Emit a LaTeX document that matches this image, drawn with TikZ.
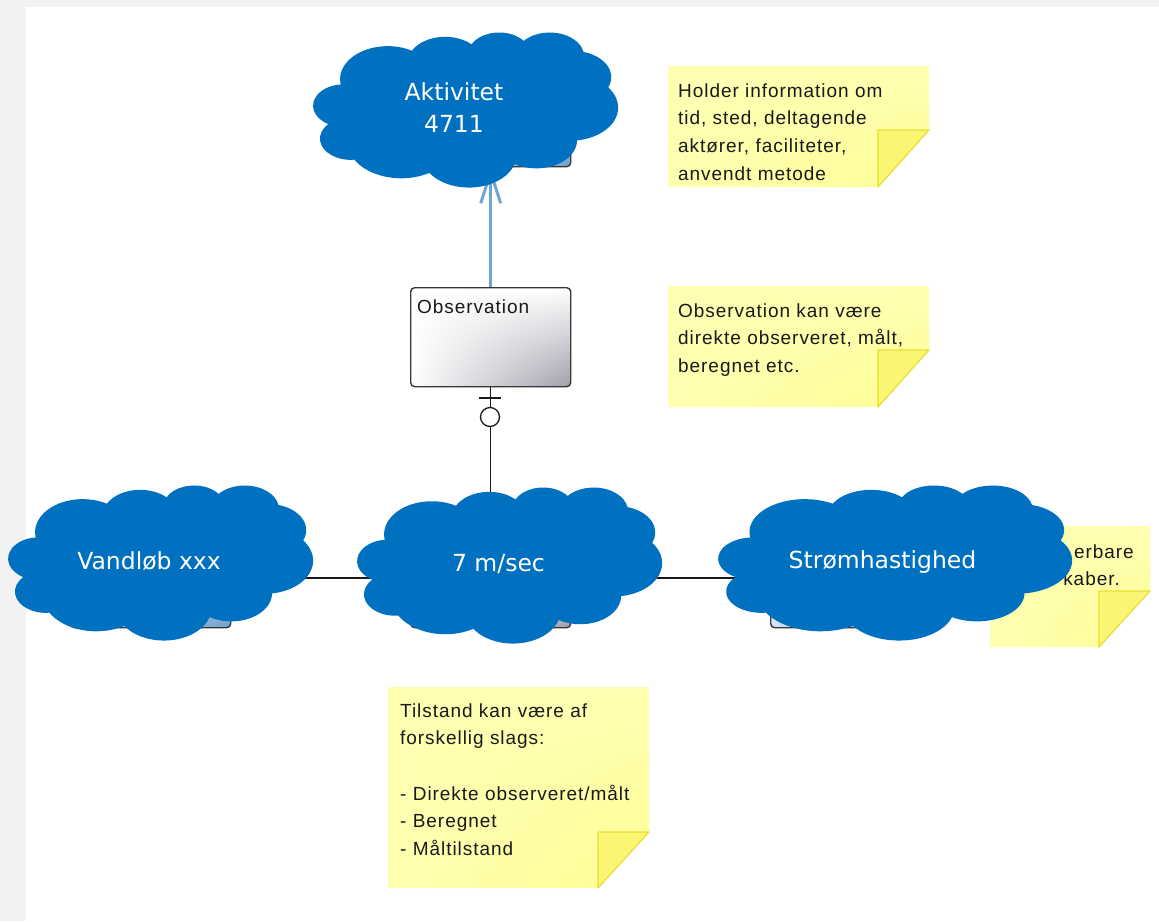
\documentclass[tikz,border=0pt]{standalone}
\usepackage{fontspec}
\newfontfamily\cloudfont{DejaVu Sans}
\newfontfamily\notefont[LetterSpace=5]{Liberation Sans}
\usetikzlibrary{arrows.meta,shadings}
\definecolor{cloudblue}{RGB}{0,112,192}
\definecolor{bgray}{RGB}{242,242,242}
\definecolor{noteyel}{RGB}{255,255,178}
\definecolor{noteyel2}{RGB}{255,253,148}
\definecolor{foldyel}{RGB}{250,246,115}
\definecolor{foldedge}{RGB}{232,222,50}
\definecolor{arrowblue}{RGB}{110,165,210}
\definecolor{boxedge}{RGB}{55,55,55}
\definecolor{boxgray}{RGB}{160,160,172}
\definecolor{boxblue}{RGB}{110,160,205}
\definecolor{boxblue2}{RGB}{210,228,245}
\definecolor{lineblack}{RGB}{25,25,25}
\newcommand\ppcloud[4]{%
  \pgfmathsetmacro\cldw{(#3-#1)/43.2}%
  \pgfmathsetmacro\cldh{(#4-#2)/43.2}%
  \begin{scope}[shift={(#1,#2)}, x=\cldw pt, y=-\cldh pt]
    \fill[cloudblue] (3.9,14.37)
      \foreach \ra/\rb/\sa/\sb [evaluate=\sa as \ta using {atan2(\ra*sin(\sa),\rb*cos(\sa))},
                             evaluate=\sa as \tb using {atan2(\ra*sin(\sa+\sb),\rb*cos(\sa+\sb))},
                             evaluate=\sa as \tc using {\ta+mod(\tb-\ta+720,360)}]
        in {6.753/9.19/-190.4875/123.7805, 5.333/7.267/-144.1024/89.9452,
            4.365/5.945/-145.8079/99.7230, 4.857/6.595/-130.9861/117.2417,
            5.333/7.273/-78.7089/109.0269, 6.775/9.22/-46.2673/130.269,
            5.785/7.867/0.625/114.0333, 6.752/9.215/22.4516/115.1726,
            7.72/10.543/66.2426/74.8889, 4.36/5.918/-274.942/146.7356,
            4.345/5.945/-246.8285/152.5189}
        { arc[start angle=\ta, end angle=\tc, x radius=\ra, y radius=\rb] }
      -- cycle;
  \end{scope}}
\begin{document}
\begin{tikzpicture}[x=1pt,y=-1pt,
  classbox/.style={draw=boxedge, line width=1.4pt, rounded corners=4pt,
    minimum width=160pt, minimum height=99pt, anchor=north west, inner sep=0pt},
  graybox/.style={classbox, upper left=white, upper right=white, lower left=white, lower right=boxgray},
  bluebox/.style={classbox, upper left=white, upper right=white, lower left=boxblue2, lower right=boxblue},
  conn/.style={draw=lineblack, line width=1.5pt},
  notebg/.style={upper left=noteyel, upper right=noteyel, lower left=noteyel, lower right=noteyel2},
  fold/.style={fill=foldyel, draw=foldedge, line width=1.2pt, line join=round},
  notetxt/.style={font=\notefont\fontsize{19}{27.7}\selectfont, text=black!90, inner sep=0pt, align=left},
  ctext/.style={font=\cloudfont\fontsize{23.5}{28}\selectfont, text=white, inner sep=0pt}]
\useasboundingbox (0,0) rectangle (1159,921);
\fill[bgray] (0,0) rectangle (1159,921);
\fill[white] (26,7) rectangle (1159,921);

% sticky notes
\shade[notebg] (668,66) -- (929,66) -- (929,130) -- (878,187) -- (668,187) -- cycle;
\path[fold] (878,130) -- (929,130) -- (878,187) -- cycle;
\node[notetxt, anchor=base west, text width=250pt] (note1) at (678,97)
  {Holder information om\\tid, sted, deltagende\\aktører, faciliteter,\\anvendt metode};

\shade[notebg] (668,286) -- (929,286) -- (929,350) -- (878,407) -- (668,407) -- cycle;
\path[fold] (878,350) -- (929,350) -- (878,407) -- cycle;
\node[notetxt, anchor=base west, text width=250pt] (note2) at (678,317)
  {Observation kan være\\direkte observeret, målt,\\beregnet etc.};

\shade[notebg] (388,687) -- (649,687) -- (649,832) -- (598,888) -- (388,888) -- cycle;
\path[fold] (598,832) -- (649,832) -- (598,888) -- cycle;
\node[notetxt, anchor=base west, text width=245pt] (note3) at (400,717)
  {Tilstand kan være af\\forskellig slags:\\\mbox{}\\- Direkte observeret/målt\\- Beregnet\\- Måltilstand};

\shade[notebg] (990,526) -- (1150,526) -- (1150,591) -- (1099,647) -- (990,647) -- cycle;
\path[fold] (1099,591) -- (1150,591) -- (1099,647) -- cycle;
\node[notetxt, anchor=base east] (note4a) at (1134,558) {erbare};
\node[notetxt, anchor=base east] (note4b) at (1120,585) {kaber.};

% hidden class boxes
\node[bluebox] (aktbox) at (410,67) {};
\node[bluebox] (vandbox) at (70,528) {};
\node[graybox] (valbox) at (410,528) {};
\node[bluebox] (strombox) at (770,528) {};

% observation box
\node[graybox] (obs) at (410,287) {};
\node[font=\notefont\fontsize{19}{22}\selectfont, text=black!90, anchor=base west, inner sep=0pt] (obslbl) at (417,313) {Observation};

% connectors
\draw[conn] (vandbox.east) -- (valbox.west);
\draw[conn] (valbox.east) -- (strombox.west);
\draw[conn] (obs.south) -- (valbox.north);
\draw[conn] (479,398) -- (501,398);
\node[circle, draw=lineblack, line width=1.3pt, fill=white, minimum size=19pt, inner sep=0pt] (optc) at (490,417) {};
\draw[arrowblue, line width=3pt, -{Straight Barb[length=31pt,width=20pt]}] (obs.north) -- (aktbox.south);

% clouds
\ppcloud{313}{32}{618}{187}
\ppcloud{8}{485}{313}{640}
\ppcloud{357}{487}{662}{643}
\ppcloud{718}{485}{1072}{640}

\node[ctext, anchor=base] (cakt1) at (454,100) {Aktivitet};
\node[ctext, anchor=base] (cakt2) at (454,132) {4711};
\node[ctext, anchor=base] (cvand) at (149,569) {Vandløb xxx};
\node[ctext, anchor=base] (cval) at (498.5,571) {7 m/sec};
\node[ctext, anchor=base] (cstrom) at (882.5,568) {Strømhastighed};
\end{tikzpicture}
\end{document}
